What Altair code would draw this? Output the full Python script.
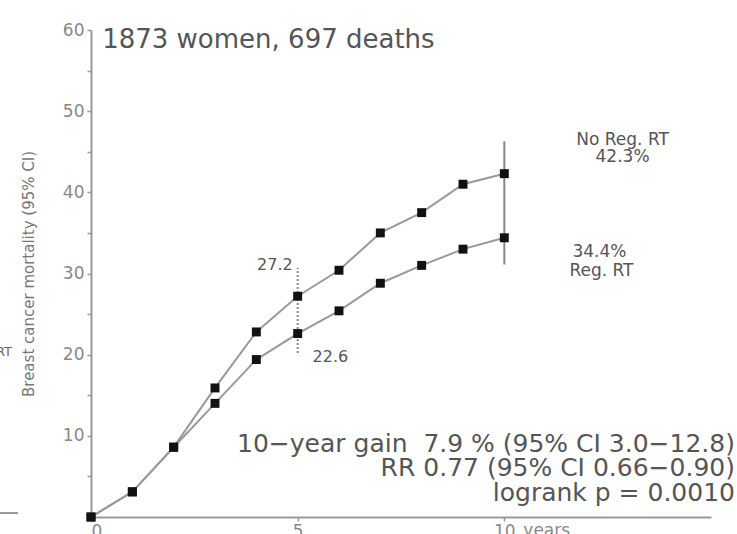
import altair as alt
import pandas as pd

# ---- data ----
years = [0, 1, 2, 3, 4, 5, 6, 7, 8, 9, 10]
no_reg_rt = [0, 3.1, 8.6, 15.9, 22.8, 27.2, 30.4, 35.0, 37.5, 41.0, 42.3]
reg_rt = [0, 3.1, 8.6, 14.0, 19.4, 22.6, 25.4, 28.8, 31.0, 33.0, 34.4]

ci_years = [5, 10]
ci_low = [20.2, 31.1]
ci_high = [30.7, 46.3]
ci_style = ["dot", "solid"]

title_text = "1873 women, 697 deaths"
stats_lines = [
    "10\u2212year gain\u00a0\u00a07.9 % (95% CI 3.0\u221212.8)",
    "RR 0.77 (95% CI 0.66\u22120.90)",
    "logrank p = 0.0010",
]
y_title = "Breast cancer mortality (95% CI)"

FONT = "DejaVu Sans"
W, H = 620, 487

lines_df = pd.DataFrame(
    {
        "year": years * 2,
        "value": no_reg_rt + reg_rt,
        "series": ["No Reg. RT"] * len(years) + ["Reg. RT"] * len(years),
    }
)
ci_df = pd.DataFrame({"year": ci_years, "lo": ci_low, "hi": ci_high, "style": ci_style})

xs = alt.Scale(domain=[0, 15], nice=False, zero=False)
ys = alt.Scale(domain=[0, 60], nice=False)

base = alt.Chart(lines_df)

x_enc = alt.X(
    "year:Q",
    scale=xs,
    axis=alt.Axis(
        values=[0, 5, 10],
        title=None,
        grid=False,
        domainColor="#999",
        domainWidth=2,
        tickColor="#999",
        tickWidth=1.5,
        tickSize=4,
        labelColor="#888",
        labelFontSize=17,
        labelFont=FONT,
        labelPadding=2,
    ),
)
y_enc = alt.Y(
    "value:Q",
    scale=ys,
    axis=alt.Axis(
        values=list(range(0, 61, 5)),
        labelExpr="(datum.value % 10 == 0 && datum.value > 0) ? datum.label : ''",
        title=y_title,
        titleFont=FONT,
        titleFontSize=15,
        titleFontWeight="normal",
        titleColor="#777",
        titleX=-63,
        titleY=H / 2,
        titleAngle=270,
        titleAlign="center",
        titleBaseline="middle",
        grid=False,
        domainColor="#999",
        domainWidth=2,
        tickColor="#999",
        tickWidth=1.5,
        tickSize=4,
        labelColor="#888",
        labelFontSize=17,
        labelFont=FONT,
        labelPadding=3,
    ),
)

lines = base.mark_line(color="#999", strokeWidth=2).encode(
    x=x_enc, y=y_enc, detail="series:N"
)
points = base.mark_square(size=80, color="#111", opacity=1).encode(
    x=alt.X("year:Q", scale=xs), y=alt.Y("value:Q", scale=ys)
)

ci = alt.Chart(ci_df).mark_rule(color="#888", strokeWidth=2).encode(
    x=alt.X("year:Q", scale=xs),
    y=alt.Y("lo:Q", scale=ys),
    y2="hi:Q",
    strokeDash=alt.StrokeDash(
        "style:N",
        scale=alt.Scale(domain=["dot", "solid"], range=[[2, 2], [1, 0]]),
        legend=None,
    ),
)

def txt(df, align, size, color="#555", baseline="middle"):
    return alt.Chart(pd.DataFrame(df)).mark_text(
        align=align, baseline=baseline, fontSize=size, font=FONT, color=color
    ).encode(
        x=alt.X("x:Q", scale=xs),
        y=alt.Y("y:Q", scale=ys),
        text="t:N",
    )

title_layer = txt({"x": [0.27], "y": [58.8], "t": [title_text]}, "left", 26)
labels_center = txt(
    {
        "x": [12.86, 12.86, 12.3, 12.35],
        "y": [46.5, 44.3, 32.6, 30.3],
        "t": ["No Reg. RT", "42.3%", "34.4%", "Reg. RT"],
    },
    "center",
    17,
)
label_272 = txt({"x": [4.88], "y": [31.0], "t": ["27.2"]}, "right", 16)
label_226 = txt({"x": [5.36], "y": [19.7], "t": ["22.6"]}, "left", 16)
stats = txt(
    {"x": [15.58] * 3, "y": [8.95, 6.0, 2.9], "t": stats_lines}, "right", 25
)

years_label = alt.Chart(pd.DataFrame({"x": [10], "t": ["years"]})).mark_text(
    align="left", baseline="top", fontSize=17, font=FONT, color="#888", dx=19
).encode(x=alt.X("x:Q", scale=xs), y=alt.value(H + 6), text="t:N")

# fragments of a neighbouring panel at the left edge
frag_text = alt.Chart(pd.DataFrame({"t": ["RT"]})).mark_text(
    align="right", baseline="middle", fontSize=13, font=FONT, color="#666"
).encode(x=alt.value(-79), y=alt.value(322), text="t:N")
frag_line = alt.Chart(pd.DataFrame({"a": [0]})).mark_rule(
    color="#999", strokeWidth=2
).encode(x=alt.value(-91), x2=alt.value(-73), y=alt.value(483))

chart = (
    alt.layer(
        lines, ci, points, title_layer, labels_center, label_272, label_226,
        stats, years_label, frag_text, frag_line,
    )
    .properties(
        width=W,
        height=H,
        autosize=alt.AutoSizeParams(type="none"),
        padding={"left": 91, "top": 30, "right": 26, "bottom": 17},
        background="white",
    )
    .configure_view(stroke=None)
)

chart.save("out.html", embed_options={"renderer": "svg", "actions": False})
